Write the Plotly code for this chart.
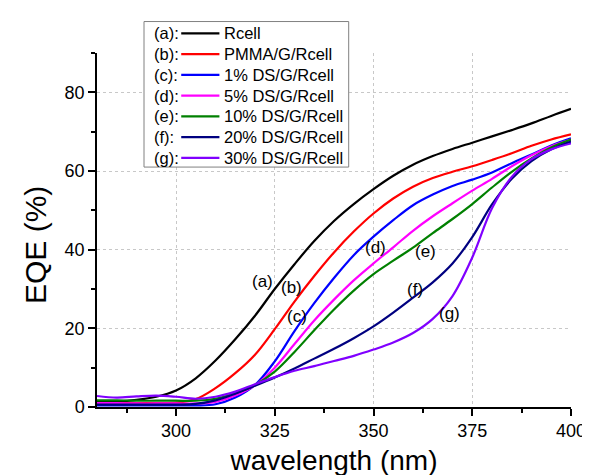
import plotly.graph_objects as go

# ---------------- data ----------------
wavelength = [280, 285, 290, 295, 300, 305, 310, 315, 320, 325, 330, 335, 340,
              345, 350, 355, 360, 365, 370, 375, 380, 385, 390, 395, 400]

eqe_a = [1.3, 1.4, 1.8, 2.6, 4.2, 7.3, 11.8, 17.2, 23.2, 30.0, 36.3, 42.2, 47.3,
         51.6, 55.4, 58.8, 61.6, 63.8, 65.6, 67.2, 68.8, 70.4, 72.1, 74.0, 75.8]
eqe_b = [1.0, 1.0, 1.0, 1.0, 1.1, 2.0, 4.8, 8.6, 13.3, 19.8, 26.8, 33.3, 39.3,
         44.6, 49.2, 53.0, 56.0, 58.2, 59.8, 61.2, 62.8, 64.5, 66.4, 68.0, 69.3]
eqe_c = [0.4, 0.4, 0.4, 0.4, 0.4, 0.4, 0.7, 2.4, 5.6, 11.6, 19.3, 26.4, 32.8,
         38.6, 43.3, 47.5, 51.3, 54.0, 56.2, 57.8, 59.6, 62.0, 64.2, 66.5, 68.3]
eqe_d = [1.0, 1.0, 0.9, 0.9, 0.9, 0.9, 1.3, 2.9, 5.5, 10.0, 16.0, 22.0, 27.3,
         32.2, 36.5, 40.6, 44.8, 48.5, 51.8, 55.0, 58.0, 61.2, 64.0, 66.3, 68.0]
eqe_e = [1.7, 1.7, 1.6, 1.6, 1.6, 1.6, 2.1, 3.5, 5.6, 9.0, 14.0, 19.5, 24.8,
         29.6, 33.8, 37.2, 40.5, 44.2, 47.8, 51.6, 55.8, 59.8, 63.2, 66.0, 68.0]
eqe_f = [0.6, 0.6, 0.6, 0.6, 0.6, 0.8, 1.7, 3.4, 5.4, 7.5, 9.8, 12.3, 14.8,
         17.5, 20.5, 24.0, 27.8, 31.7, 36.5, 43.2, 51.5, 58.0, 62.5, 65.5, 67.5]
eqe_g = [2.8, 2.4, 2.7, 2.9, 2.6, 2.1, 2.6, 3.9, 5.8, 7.6, 9.2, 10.4, 11.7,
         13.0, 14.6, 16.4, 18.8, 22.4, 28.2, 38.0, 50.5, 58.5, 63.0, 65.5, 67.0]

series_values = [eqe_a, eqe_b, eqe_c, eqe_d, eqe_e, eqe_f, eqe_g]
series_tags = ["(a)", "(b)", "(c)", "(d)", "(e)", "(f)", "(g)"]
series_names = ["Rcell", "PMMA/G/Rcell", "1% DS/G/Rcell", "5% DS/G/Rcell",
                "10% DS/G/Rcell", "20% DS/G/Rcell", "30% DS/G/Rcell"]

x_ticks = [300, 325, 350, 375, 400]
y_ticks = [0, 20, 40, 60, 80]

# ---------------- styles / layout constants ----------------
colors = ["#000000", "#FF0000", "#0000FF", "#FF00FF", "#008000", "#000080", "#8000FF"]
label_pos = [(321.9, 32.0), (329.3, 30.5), (330.6, 23.0), (350.4, 40.5),
             (363.1, 39.5), (360.4, 29.75), (369.3, 23.75)]
FONT = "Arial, 'Liberation Sans', sans-serif"
W, H = 590, 475
L, R, T, B = 89, 17, 45, 70
PW, PH = W - L - R, H - T - B


def px(xp):
    return (xp - L) / PW


def py(yp):
    return (H - B - yp) / PH


fig = go.Figure()
for vals, name, col in zip(series_values, series_names, colors):
    fig.add_trace(go.Scatter(x=wavelength, y=vals, mode="lines", name=name,
                             line=dict(color=col, width=2.2, shape="spline", smoothing=1.0),
                             showlegend=False))

annotations = []
for tag, (lx, ly) in zip(series_tags, label_pos):
    annotations.append(dict(x=lx, y=ly, xref="x", yref="y", text=tag, showarrow=False,
                            font=dict(size=17, color="black", family=FONT)))

# y-axis title
annotations.append(dict(x=px(26), y=py(240), xref="paper", yref="paper", text="EQE (%)",
                        textangle=-90, showarrow=False, xanchor="center", yanchor="middle",
                        font=dict(size=30, color="black", family=FONT)))

# manual legend box (prefix, swatch, label)
shapes = [dict(type="rect", xref="paper", yref="paper", x0=px(137), x1=px(346),
               y0=py(161), y1=py(13), line=dict(color="#808080", width=1),
               fillcolor="white", layer="above")]
for i, (tag, name, col) in enumerate(zip(series_tags, series_names, colors)):
    yc = 25 + 21.1 * i
    annotations.append(dict(x=px(145), y=py(yc), xref="paper", yref="paper", text=tag + ":",
                            xanchor="left", yanchor="middle", showarrow=False,
                            font=dict(size=16.5, color="black", family=FONT)))
    shapes.append(dict(type="line", xref="paper", yref="paper", x0=px(175), x1=px(214),
                       y0=py(yc), y1=py(yc), line=dict(color=col, width=2.2), layer="above"))
    annotations.append(dict(x=px(217), y=py(yc), xref="paper", yref="paper", text=name,
                            xanchor="left", yanchor="middle", showarrow=False,
                            font=dict(size=16.5, color="black", family=FONT)))

axis_common = dict(showline=True, linecolor="black", linewidth=1.5, ticks="outside",
                   ticklen=7, tickwidth=1.5, tickcolor="black", showgrid=True,
                   gridcolor="#c8c8c8", griddash="dot", gridwidth=1, zeroline=False,
                   tickfont=dict(size=18, color="black", family=FONT), mirror=False)

fig.update_layout(
    width=W, height=H, margin=dict(l=L, r=R, t=T, b=B),
    paper_bgcolor="white", plot_bgcolor="white",
    font=dict(family=FONT, color="black"),
    xaxis=dict(range=[280, 400], tickvals=x_ticks,
               minor=dict(tick0=0, dtick=12.5, ticks="outside", ticklen=4,
                          tickcolor="black", tickwidth=1.5, showgrid=False),
               title=dict(text="wavelength (nm)", font=dict(size=28, color="black", family=FONT),
                          standoff=10),
               **axis_common),
    yaxis=dict(range=[0, 90], tickvals=y_ticks,
               minor=dict(tick0=0, dtick=10, ticks="outside", ticklen=4,
                          tickcolor="black", tickwidth=1.5, showgrid=False),
               **axis_common),
    annotations=annotations, shapes=shapes, showlegend=False,
)

fig.write_html("out.html")
